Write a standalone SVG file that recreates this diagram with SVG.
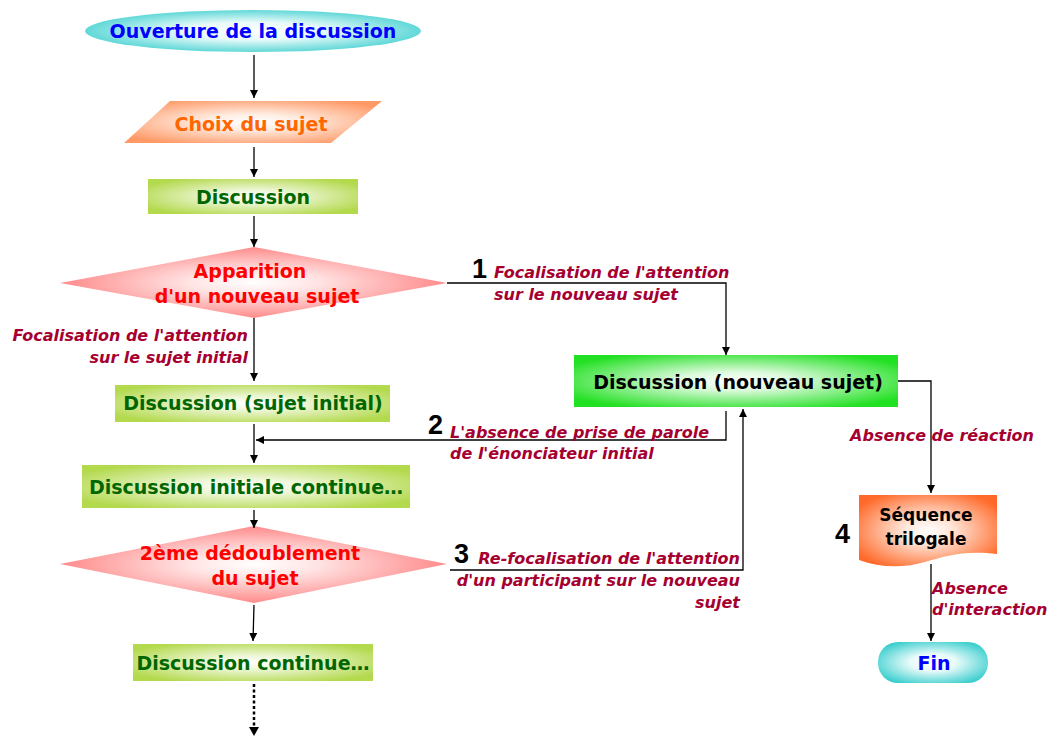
<svg xmlns="http://www.w3.org/2000/svg" width="1054" height="736" viewBox="0 0 1054 736">
<defs>
<radialGradient id="gCyan" cx="0.5" cy="0.5" r="0.6"><stop offset="0" stop-color="#ffffff"/><stop offset="0.35" stop-color="#e8fafa"/><stop offset="1" stop-color="#33cccc"/></radialGradient>
<radialGradient id="gOrange" cx="0.5" cy="0.5" r="0.6"><stop offset="0" stop-color="#ffffff"/><stop offset="0.3" stop-color="#ffeee4"/><stop offset="1" stop-color="#ff9966"/></radialGradient>
<radialGradient id="gLime" cx="0.5" cy="0.5" r="0.6"><stop offset="0" stop-color="#ffffff"/><stop offset="0.3" stop-color="#eef7d8"/><stop offset="1" stop-color="#b3d94d"/></radialGradient>
<radialGradient id="gPink" cx="0.5" cy="0.5" r="0.55"><stop offset="0" stop-color="#ffffff"/><stop offset="0.3" stop-color="#ffe4e4"/><stop offset="1" stop-color="#ff7d7d"/></radialGradient>
<radialGradient id="gGreen" cx="0.5" cy="0.5" r="0.6"><stop offset="0" stop-color="#ffffff"/><stop offset="0.3" stop-color="#dcfadc"/><stop offset="1" stop-color="#22e022"/></radialGradient>
<radialGradient id="gRed" cx="0.5" cy="0.5" r="0.6"><stop offset="0" stop-color="#ffffff"/><stop offset="0.3" stop-color="#ffe5d8"/><stop offset="1" stop-color="#ff6a2a"/></radialGradient>
<marker id="arr" viewBox="0 0 10 10" refX="10" refY="5" markerWidth="8" markerHeight="8" markerUnits="userSpaceOnUse" orient="auto"><path d="M0,0 L10,5 L0,10 z" fill="#000"/></marker>
<style>
.n{font-family:"DejaVu Sans","Liberation Sans",sans-serif;font-weight:bold;text-anchor:middle;font-size:19px}
.lbl{font-family:"DejaVu Sans","Liberation Sans",sans-serif;font-weight:bold;font-style:italic;font-size:16px;fill:#a50030}
.num{font-family:"Liberation Sans","DejaVu Sans",sans-serif;font-weight:bold;font-size:27px;fill:#000}
.c{fill:none;stroke:#000;stroke-width:1.3}
</style>
</defs>

<g id="n-ouverture">
<ellipse cx="253" cy="31" rx="168" ry="21" fill="url(#gCyan)"/>
<text class="n" x="253" y="38" fill="#0000ff">Ouverture de la discussion</text>
</g>
<g id="n-choix">
<polygon points="170,101 382,101 331,143 124,143" fill="url(#gOrange)"/>
<text class="n" x="251" y="131" fill="#ff6600">Choix du sujet</text>
</g>
<g id="n-discussion">
<rect x="148" y="179" width="210" height="35" fill="url(#gLime)"/>
<text class="n" x="253" y="204" fill="#006600">Discussion</text>
</g>
<g id="n-apparition">
<polygon points="254,247 447,283 254,318 60,283" fill="url(#gPink)"/>
<text class="n" x="250" y="278" fill="#ff0000">Apparition</text>
<text class="n" x="257" y="303" fill="#ff0000">d'un nouveau sujet</text>
</g>
<g id="n-sujet-initial">
<rect x="115" y="385" width="275" height="37" fill="url(#gLime)"/>
<text class="n" x="253" y="410" fill="#006600">Discussion (sujet initial)</text>
</g>
<g id="n-nouveau-sujet">
<rect x="574" y="355" width="324" height="52" fill="url(#gGreen)"/>
<text class="n" x="738" y="389" fill="#000">Discussion (nouveau sujet)</text>
</g>
<g id="n-initiale-continue">
<rect x="82" y="465" width="328" height="43" fill="url(#gLime)"/>
<text class="n" x="246" y="494" fill="#006600">Discussion initiale continue…</text>
</g>
<g id="n-dedoublement">
<polygon points="254,526 447,564 254,603 60,564" fill="url(#gPink)"/>
<text class="n" x="250" y="560" fill="#ff0000">2ème dédoublement</text>
<text class="n" x="255" y="585" fill="#ff0000">du sujet</text>
</g>
<g id="n-continue">
<rect x="133" y="644" width="240" height="37" fill="url(#gLime)"/>
<text class="n" x="253" y="670" fill="#006600">Discussion continue…</text>
</g>
<g id="n-sequence">
<path d="M859,495 L997,495 L997,554 C965,550 945,556 925,562 C905,568 880,568 859,560 Z" fill="url(#gRed)"/>
<text class="n" x="926" y="521" font-size="17" fill="#000" style="font-size:17px">Séquence</text>
<text class="n" x="926" y="545" fill="#000" style="font-size:17px">trilogale</text>
<text class="num" x="835" y="543">4</text>
</g>
<g id="n-fin">
<rect x="878" y="642" width="110" height="41" rx="20" ry="20" fill="url(#gCyan)"/>
<text class="n" x="934" y="670" fill="#0000ff">Fin</text>
</g>

<g id="connectors">
<line class="c" x1="254" y1="55" x2="254" y2="98" marker-end="url(#arr)"/>
<line class="c" x1="254" y1="147" x2="254" y2="177" marker-end="url(#arr)"/>
<line class="c" x1="254" y1="216" x2="254" y2="247" marker-end="url(#arr)"/>
<line class="c" x1="254" y1="318" x2="254" y2="381" marker-end="url(#arr)"/>
<polyline class="c" points="447,283 726,283 726,355" marker-end="url(#arr)"/>
<polyline class="c" points="898,381 931,381 931,493" marker-end="url(#arr)"/>
<line class="c" x1="931" y1="564" x2="931" y2="641" marker-end="url(#arr)"/>
<polyline class="c" points="726,411 726,440 256,440" marker-end="url(#arr)"/>
<line class="c" x1="254" y1="424" x2="254" y2="463" marker-end="url(#arr)"/>
<line class="c" x1="254" y1="510" x2="254" y2="528" marker-end="url(#arr)"/>
<polyline class="c" points="450,570 743,570 743,409" marker-end="url(#arr)"/>
<line class="c" x1="254" y1="605" x2="253" y2="641" marker-end="url(#arr)"/>
<line x1="254" y1="684" x2="254" y2="729" stroke="#000" stroke-width="2.5" stroke-dasharray="3,2.5"/>
<path d="M249,727 L259,727 L254,736 z" fill="#000"/>

<text class="num" x="472" y="278">1</text>
<text class="lbl" x="494" y="278">Focalisation de l'attention</text>
<text class="lbl" x="494" y="300">sur le nouveau sujet</text>

<text class="lbl" x="248" y="341" text-anchor="end">Focalisation de l'attention</text>
<text class="lbl" x="248" y="363" text-anchor="end">sur le sujet initial</text>

<text class="num" x="428" y="434">2</text>
<text class="lbl" x="450" y="438">L'absence de prise de parole</text>
<text class="lbl" x="450" y="459">de l'énonciateur initial</text>

<text class="num" x="454" y="563">3</text>
<text class="lbl" x="740" y="564" text-anchor="end">Re-focalisation de l'attention</text>
<text class="lbl" x="740" y="586" text-anchor="end">d'un participant sur le nouveau</text>
<text class="lbl" x="740" y="608" text-anchor="end">sujet</text>

<text class="lbl" x="1034" y="441" text-anchor="end">Absence de réaction</text>
<text class="lbl" x="932" y="594">Absence</text>
<text class="lbl" x="932" y="615">d'interaction</text>
</g>
</svg>
